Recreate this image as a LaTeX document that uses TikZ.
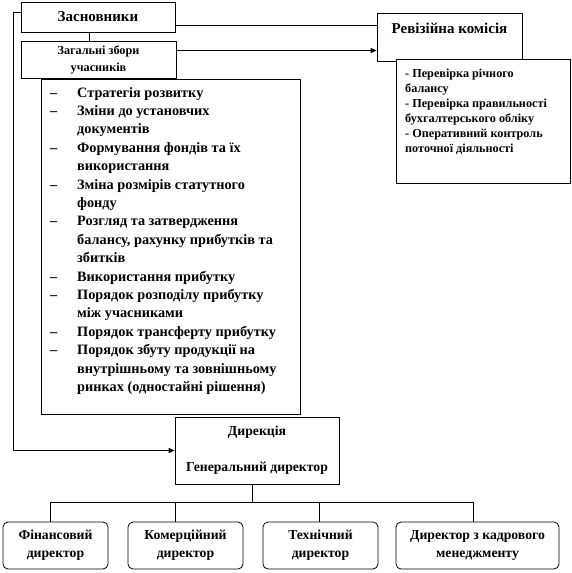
\documentclass[tikz,border=0pt]{standalone}
\usepackage{fontspec}
\setmainfont{Liberation Serif}
\usetikzlibrary{arrows.meta}
\begin{document}
\begin{tikzpicture}[x=1pt,y=-1pt,
  every node/.style={font=\bfseries},
  box/.style={draw, line width=0.8pt, inner sep=0pt, align=center},
  rbox/.style={box, rounded corners=5pt},
  line/.style={line width=0.8pt},
  arr/.style={line width=0.8pt, -{Triangle[length=6pt,width=5pt]}},
  big/.style={font=\bfseries\fontsize{15}{18}\selectfont},
  mid/.style={font=\bfseries\fontsize{13.7}{18}\selectfont}]
\useasboundingbox (0,0) rectangle (572,573);
% boxes
\node[box, big, minimum width=154, minimum height=30] (zas) at (98,17) {Засновники};
\node[box, minimum width=155, minimum height=37, font=\bfseries\fontsize{12.2}{17}\selectfont] (zag) at (98.5,59.5) {Загальні збори\\учасників};
\node[box, minimum width=259, minimum height=335, anchor=north west] (lst) at (41,79) {};
\node[box, big, minimum width=145, minimum height=48] (rev) at (449.5,37) {Ревізійна комісія\\\mbox{}};
\node[box, minimum width=174, minimum height=124, anchor=north west, fill=white] (rtx) at (396,59) {};
\node[box, mid, minimum width=164, minimum height=67] (dir) at (257,450.5) {Дирекція\\\mbox{}\\Генеральний директор};
\node[rbox, mid, minimum width=105, minimum height=47] (d1) at (55.5,545.5) {Фінансовий\\директор};
\node[rbox, mid, minimum width=115, minimum height=47] (d2) at (185.5,545.5) {Комерційний\\директор};
\node[rbox, mid, minimum width=115, minimum height=47] (d3) at (320.5,545.5) {Технічний\\директор};
\node[rbox, mid, minimum width=163, minimum height=47] (d4) at (477.5,545.5) {Директор з кадрового\\менеджменту};
% list text
\node[inner sep=0pt, anchor=north west, font=\bfseries\fontsize{14.3}{18.4}\selectfont] (lsttxt) at (50,84) {%
\begin{tabular}{@{}p{27pt}@{}l@{}}
–& Стратегія розвитку\\
–& Зміни до установчих\\
 & документів\\
–& Формування фондів та їх\\
 & використання\\
–& Зміна розмірів статутного\\
 & фонду\\
–& Розгляд та затвердження\\
 & балансу, рахунку прибутків та\\
 & збитків\\
–& Використання прибутку\\
–& Порядок розподілу прибутку\\
 & між учасниками\\
–& Порядок трансферту прибутку\\
–& Порядок збуту продукції на\\
 & внутрішньому та зовнішньому\\
 & ринках (одностайні рішення)
\end{tabular}};
\node[inner sep=0pt, anchor=north west, font=\bfseries\fontsize{12.2}{15}\selectfont] (rtxt) at (405,66.5) {%
\begin{tabular}{@{}l@{}}
- Перевірка річного\\
балансу\\
- Перевірка правильності\\
бухгалтерського обліку\\
- Оперативний контроль\\
поточної діяльності
\end{tabular}};
% connectors
\coordinate (c1) at (89,0);
\coordinate (lft) at (13,0);
\draw[line] (zas.south -| c1) -- (zag.north -| c1);
\draw[line] ([yshift=-8pt]zas.east) -- ([yshift=-8pt]zas.east -| rev.west);
\draw[arr] ([yshift=9pt]zag.east) -- ([yshift=9pt]zag.east -| rev.west);
\draw[arr] ([yshift=5pt]zas.west) -| (lft |- dir.west) -- (dir.west);
\coordinate (b0) at (252,502);
\coordinate (b1) at (50,502);
\coordinate (b2) at (175,502);
\coordinate (b3) at (319,502);
\coordinate (b4) at (473,502);
\draw[line] (dir.south -| b0) -- (b0);
\draw[line] (b1) -- (b4);
\draw[line] (b1) -- (b1 |- d1.north);
\draw[line] (b2) -- (b2 |- d2.north);
\draw[line] (b3) -- (b3 |- d3.north);
\draw[line] (b4) -- (b4 |- d4.north);
\end{tikzpicture}
\end{document}
